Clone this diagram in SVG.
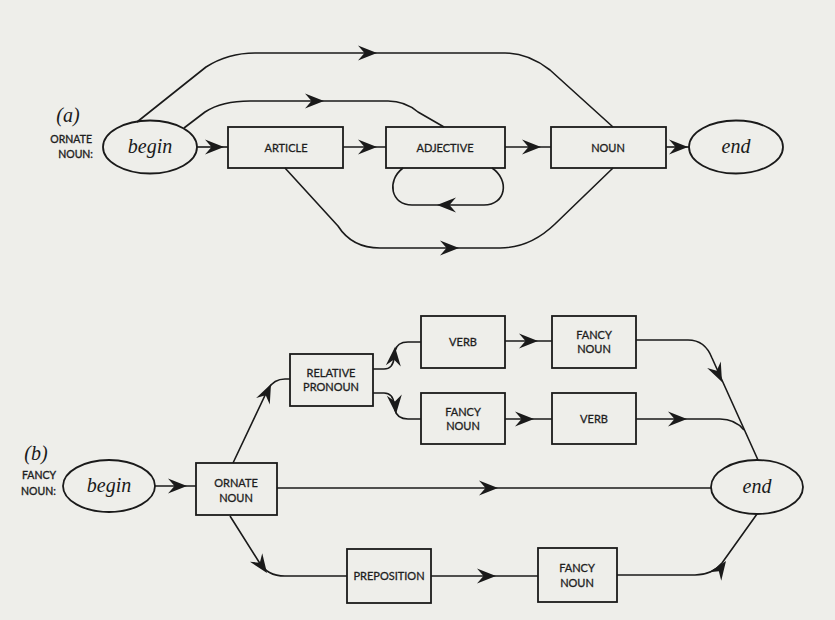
<svg xmlns="http://www.w3.org/2000/svg" xmlns:xlink="http://www.w3.org/1999/xlink" width="835" height="620" viewBox="0 0 835 620">
  <style>
    .node { fill: none; stroke: #1a1a1a; stroke-width: 1.8; }
    .edge { fill: none; stroke: #1a1a1a; stroke-width: 1.6; stroke-linejoin: round; }
    .lbl { font-family: Lato, "Open Sans", "Liberation Sans", sans-serif; font-size: 11px; fill: #1e1e1e; stroke: #1e1e1e; stroke-width: 0.3; text-anchor: middle; }
    .side { font-family: Lato, "Open Sans", "Liberation Sans", sans-serif; font-size: 10.5px; fill: #1e1e1e; stroke: #1e1e1e; stroke-width: 0.35; }
    .term { font-family: "Liberation Serif", "DejaVu Serif", serif; font-style: italic; font-size: 20px; fill: #1a1a1a; text-anchor: middle; }
  </style>
  <defs>
    <!-- dart-shaped arrowhead, tip at the origin pointing along +x -->
    <path id="ah" d="M0,0 L-19,-7.5 L-12.5,0 L-19,7.5 Z" fill="#1a1a1a"/>
  </defs>

  <rect width="835" height="620" fill="#eeeeea"/>

  <!-- ===== (a) ORNATE NOUN network ===== -->
  <text class="term" x="68" y="122">(a)</text>
  <text class="side" x="92" y="143" text-anchor="end">ORNATE</text>
  <text class="side" x="93" y="158" text-anchor="end">NOUN:</text>

  <g id="a-begin">
    <ellipse class="node" cx="150" cy="147" rx="47" ry="26.5"/>
    <text class="term" x="150" y="153">begin</text>
  </g>
  <g id="a-article">
    <rect class="node" x="228" y="127" width="115" height="41"/>
    <text class="lbl" x="286" y="152">ARTICLE</text>
  </g>
  <g id="a-adjective">
    <rect class="node" x="386" y="127" width="119" height="41"/>
    <text class="lbl" x="445" y="152">ADJECTIVE</text>
  </g>
  <g id="a-noun">
    <rect class="node" x="551" y="127" width="115" height="41"/>
    <text class="lbl" x="608" y="152">NOUN</text>
  </g>
  <g id="a-end">
    <ellipse class="node" cx="736" cy="147" rx="47" ry="26.5"/>
    <text class="term" x="736" y="153">end</text>
  </g>

  <g id="a-connectors">
    <path class="edge" d="M197,147 L228,147"/>
    <use xlink:href="#ah" transform="translate(224,147)"/>
    <path class="edge" d="M343,147 L386,147"/>
    <use xlink:href="#ah" transform="translate(377,147)"/>
    <path class="edge" d="M505,147 L551,147"/>
    <use xlink:href="#ah" transform="translate(541,147)"/>
    <path class="edge" d="M666,147 L689,147"/>
    <use xlink:href="#ah" transform="translate(688,147)"/>

    <!-- skip both ARTICLE and ADJECTIVE -->
    <path class="edge" d="M137,122 L206,67 Q228,53 255,53 L505,53 Q528,53 550,70 L613,127"/>
    <use xlink:href="#ah" transform="translate(377,53)"/>
    <!-- skip ARTICLE -->
    <path class="edge" d="M184,128 L205,112 Q222,101 250,101 L388,101 Q405,101 418,112 L444,127"/>
    <use xlink:href="#ah" transform="translate(324,101)"/>
    <!-- ADJECTIVE loop -->
    <path class="edge" d="M492,168 C510,180 506,205 484,205 L412,205 C391,205 386,181 403,168"/>
    <use xlink:href="#ah" transform="translate(437,205) rotate(180)"/>
    <!-- ARTICLE straight to NOUN -->
    <path class="edge" d="M285,168 L338,226 Q352,248 380,248 L500,248 Q530,248 555,224 L613,168"/>
    <use xlink:href="#ah" transform="translate(459,248)"/>
  </g>

  <!-- ===== (b) FANCY NOUN network ===== -->
  <text class="term" x="36" y="460">(b)</text>
  <text class="side" x="22" y="479">FANCY</text>
  <text class="side" x="21" y="495">NOUN:</text>

  <g id="b-begin">
    <ellipse class="node" cx="109" cy="486" rx="46" ry="26"/>
    <text class="term" x="109" y="492">begin</text>
  </g>
  <g id="b-ornate-noun">
    <rect class="node" x="196" y="463" width="81" height="52"/>
    <text class="lbl" x="236" y="487">ORNATE</text>
    <text class="lbl" x="236" y="502">NOUN</text>
  </g>
  <g id="b-relative-pronoun">
    <rect class="node" x="290" y="354" width="83" height="52"/>
    <text class="lbl" x="331" y="377">RELATIVE</text>
    <text class="lbl" x="331" y="391">PRONOUN</text>
  </g>
  <g id="b-verb-1">
    <rect class="node" x="421" y="316" width="84" height="52"/>
    <text class="lbl" x="463" y="346">VERB</text>
  </g>
  <g id="b-fancy-noun-1">
    <rect class="node" x="552" y="316" width="84" height="52"/>
    <text class="lbl" x="594" y="339">FANCY</text>
    <text class="lbl" x="594" y="353">NOUN</text>
  </g>
  <g id="b-fancy-noun-2">
    <rect class="node" x="421" y="393" width="84" height="51"/>
    <text class="lbl" x="463" y="416">FANCY</text>
    <text class="lbl" x="463" y="430">NOUN</text>
  </g>
  <g id="b-verb-2">
    <rect class="node" x="552" y="393" width="84" height="51"/>
    <text class="lbl" x="594" y="423">VERB</text>
  </g>
  <g id="b-preposition">
    <rect class="node" x="347" y="549" width="84" height="54"/>
    <text class="lbl" x="389" y="580">PREPOSITION</text>
  </g>
  <g id="b-fancy-noun-3">
    <rect class="node" x="538" y="548" width="79" height="54"/>
    <text class="lbl" x="577" y="572">FANCY</text>
    <text class="lbl" x="577" y="587">NOUN</text>
  </g>
  <g id="b-end">
    <ellipse class="node" cx="757" cy="487" rx="46" ry="27"/>
    <text class="term" x="757" y="493">end</text>
  </g>

  <g id="b-connectors">
    <path class="edge" d="M155,486 L196,486"/>
    <use xlink:href="#ah" transform="translate(187,486)"/>

    <!-- ORNATE NOUN up to RELATIVE PRONOUN -->
    <path class="edge" d="M233,463 L268,389 Q274,379 285,379 L290,379"/>
    <use xlink:href="#ah" transform="translate(271,384) rotate(-65)"/>
    <!-- ORNATE NOUN straight to end -->
    <path class="edge" d="M277,488 L711,488"/>
    <use xlink:href="#ah" transform="translate(498,488)"/>
    <!-- ORNATE NOUN down to PREPOSITION -->
    <path class="edge" d="M230,516 L259,562 Q267,576 285,576 L347,576"/>
    <use xlink:href="#ah" transform="translate(267,573) rotate(55)"/>

    <!-- RELATIVE PRONOUN branches -->
    <path class="edge" d="M373,369 L384,369 Q393,369 394,358 L395,351 Q397,342 408,342 L421,342"/>
    <use xlink:href="#ah" transform="translate(395,347) rotate(-85)"/>
    <path class="edge" d="M373,393 L384,393 Q393,393 394,404 L395,410 Q397,419 408,419 L421,419"/>
    <use xlink:href="#ah" transform="translate(396,414) rotate(85)"/>

    <path class="edge" d="M505,341 L552,341"/>
    <use xlink:href="#ah" transform="translate(538,341)"/>
    <path class="edge" d="M505,419 L552,419"/>
    <use xlink:href="#ah" transform="translate(534,419)"/>

    <!-- into end from the upper rows -->
    <path class="edge" d="M636,340 L688,340 Q705,340 712,358 L758,460"/>
    <use xlink:href="#ah" transform="translate(722,382) rotate(65)"/>
    <path class="edge" d="M636,419 L720,419 Q735,419 744,430"/>
    <use xlink:href="#ah" transform="translate(687,419)"/>

    <path class="edge" d="M431,576 L538,576"/>
    <use xlink:href="#ah" transform="translate(496,576)"/>
    <!-- lower row into end -->
    <path class="edge" d="M617,575 L695,575 Q712,575 722,563 L757,514"/>
    <use xlink:href="#ah" transform="translate(726,561) rotate(-55)"/>
  </g>
</svg>
